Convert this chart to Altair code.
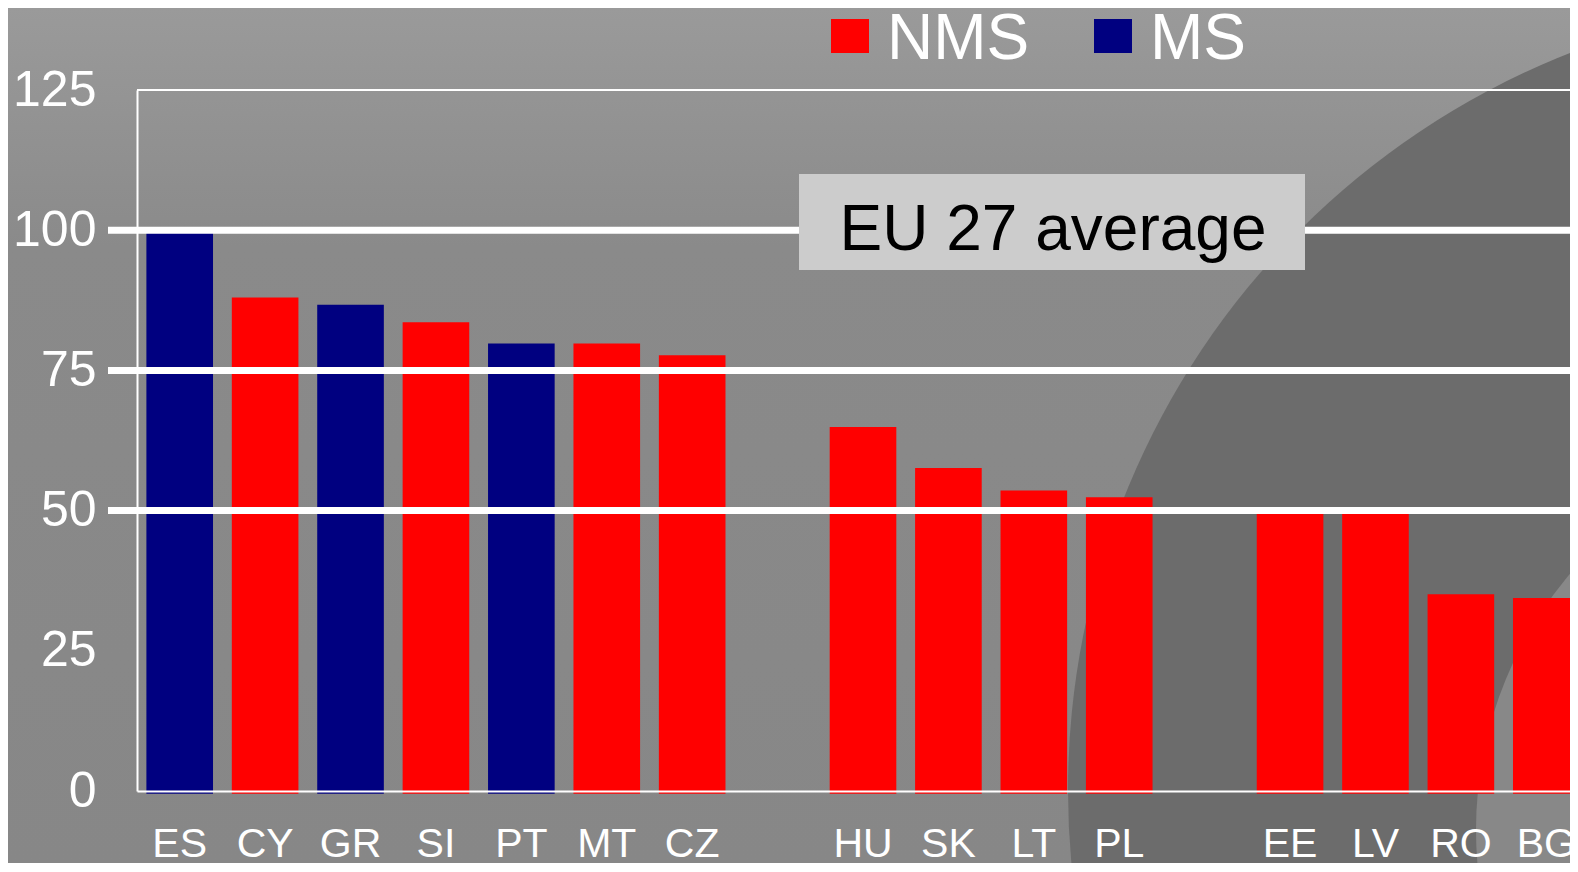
import altair as alt
import pandas as pd

# ---------------- data ----------------
countries = ["ES", "CY", "GR", "SI", "PT", "MT", "CZ", "HU", "SK", "LT", "PL", "EE", "LV", "RO", "BG"]
values = [100, 88.0, 86.7, 83.6, 79.8, 79.8, 77.7, 64.9, 57.6, 53.6, 52.4, 50, 50, 35.1, 34.4]
groups = ["MS", "NMS", "MS", "NMS", "MS", "NMS", "NMS", "NMS", "NMS", "NMS", "NMS", "NMS", "NMS", "NMS", "NMS"]
x_order = ["ES", "CY", "GR", "SI", "PT", "MT", "CZ", " ", "HU", "SK", "LT", "PL", "  ", "EE", "LV", "RO", "BG"]
y_ticks = [0, 25, 50, 75, 100, 125]
ref_lines = [50, 75, 100]
top_line = [125]
legend_order = ["NMS", "MS"]
legend_colors = ["#ff0000", "#000080"]
annotation = ["EU 27 average"]

# ---------------- layout (pixels) ----------------
FONT = "Liberation Sans"
PAD_L, PAD_T = 129, 82
STEP = 85.4
W = round(STEP * len(x_order))      # full plot width (its right end runs past the page)
VISIBLE_W = 1562 - PAD_L            # what fits inside the page body
PAD_R = VISIBLE_W - W                # negative: the right end is cut off, as in the reference
H = 701
TOTAL_H = 855
PAD_B = TOTAL_H - PAD_T - H
BAR_BASE = -0.5
legend_box_x = [694, 957]
legend_text_x = [750, 1013]

df = pd.DataFrame({"country": countries, "value": values, "group": groups})
one = pd.DataFrame({"k": [0]})

bg = alt.Chart(one).mark_rect(
    fill=alt.Gradient(
        gradient="linear",
        stops=[
            alt.GradientStop(color="#9a9a9a", offset=0),
            alt.GradientStop(color="#8a8a8a", offset=0.28),
            alt.GradientStop(color="#878787", offset=1),
        ],
        x1=0, x2=0, y1=0, y2=1,
    )
).encode(
    x=alt.value(-PAD_L), x2=alt.value(W),
    y=alt.value(-PAD_T), y2=alt.value(TOTAL_H - PAD_T),
)

dark = alt.Chart(one).mark_arc(
    color="#6c6c6c", radius=792, theta=0, theta2=6.2832
).encode(x=alt.value(1723), y=alt.value(700))

light = alt.Chart(one).mark_arc(
    color="#888888", radius=396, theta=0, theta2=6.2832
).encode(x=alt.value(1735), y=alt.value(740))

bars = alt.Chart(df).mark_bar().encode(
    x=alt.X(
        "country:N",
        scale=alt.Scale(domain=x_order, paddingInner=0.22, paddingOuter=0.11),
        axis=alt.Axis(
            title=None, labelAngle=0, labelFontSize=41, labelColor="white", labelFont=FONT,
            domainColor="white", domainWidth=2, ticks=False, tickSize=0,
            labelPadding=65, labelBaseline="alphabetic", grid=False, zindex=1,
        ),
    ),
    y=alt.Y(
        "value:Q",
        scale=alt.Scale(domain=[0, 125], nice=False),
        axis=alt.Axis(
            title=None, values=y_ticks, labelFontSize=50, labelColor="white", labelFont=FONT,
            domainColor="white", domainWidth=2, ticks=False, tickSize=0,
            labelPadding=41, grid=False, zindex=1,
        ),
    ),
    y2=alt.datum(BAR_BASE),
    color=alt.Color(
        "group:N",
        scale=alt.Scale(domain=legend_order, range=legend_colors),
        legend=None,
    ),
)

grid = alt.Chart(pd.DataFrame({"v": ref_lines})).mark_rule(color="white", strokeWidth=7).encode(
    y="v:Q", x=alt.value(-29), x2=alt.value(W)
)
top = alt.Chart(pd.DataFrame({"v": top_line})).mark_rule(color="white", strokeWidth=2).encode(
    y="v:Q", x=alt.value(0), x2=alt.value(W)
)

box = alt.Chart(one).mark_rect(color="#cccccc").encode(
    x=alt.value(662), x2=alt.value(1168), y=alt.value(84), y2=alt.value(180)
)
txt = alt.Chart(pd.DataFrame({"t": annotation})).mark_text(
    fontSize=64, font=FONT, color="black", align="center", baseline="alphabetic"
).encode(text="t:N", x=alt.value(916), y=alt.value(159.5))

legend_layers = []
for name, col, bx, tx in zip(legend_order, legend_colors, legend_box_x, legend_text_x):
    legend_layers.append(
        alt.Chart(one).mark_rect(color=col).encode(
            x=alt.value(bx), x2=alt.value(bx + 38), y=alt.value(-71), y2=alt.value(-37)
        )
    )
    legend_layers.append(
        alt.Chart(pd.DataFrame({"t": [name]})).mark_text(
            fontSize=64, font=FONT, color="white", align="left", baseline="alphabetic"
        ).encode(text="t:N", x=alt.value(tx), y=alt.value(-31))
    )

chart = alt.layer(bg, dark, light, bars, grid, top, box, txt, *legend_layers).properties(
    width=W, height=H,
    padding={"left": PAD_L, "top": PAD_T, "right": PAD_R, "bottom": PAD_B},
    autosize=alt.AutoSizeParams(type="none"),
).configure(background="#888888").configure_view(stroke="transparent")

chart.save("out.html", embed_options={"renderer": "svg", "actions": False})
